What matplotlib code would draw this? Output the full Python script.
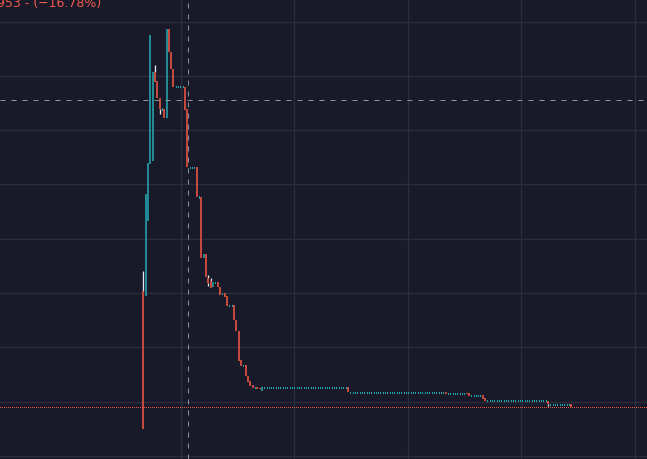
import matplotlib
matplotlib.use("Agg")
import matplotlib.pyplot as plt
import numpy as np
import pandas as pd

# candles that move (index, open, close)
move_idx = [0, 1, 2, 3, 4, 5, 6, 7, 9, 10, 11, 12, 13, 18, 19, 23, 25, 26, 27,
            28, 29, 30, 32, 33, 35, 36, 39, 40, 41, 42, 44, 45, 46, 47, 49, 50,
            51, 88, 130, 139, 140, 146, 147, 174, 184]
move_open = [3.04, 2.95, 4.33, 5.38, 5.43, 7.07, 6.91, 6.59, 6.39, 6.22, 7.86,
             7.44, 7.13, 6.80, 6.39, 5.32, 4.77, 3.65, 3.72, 3.28, 3.22, 3.11,
             3.20, 3.11, 3.00, 2.95, 2.78, 2.50, 2.30, 1.77, 1.68, 1.47, 1.38,
             1.31, 1.27, 1.25, 1.20, 1.27, 1.18, 1.16, 1.16, 1.12, 1.06, 1.02,
             0.96]
move_close = [0.50, 4.83, 5.40, 7.75, 7.07, 6.89, 6.59, 6.39, 6.22, 7.86, 7.44,
              7.13, 6.80, 6.37, 5.32, 4.77, 3.65, 3.72, 3.30, 3.19, 3.09, 3.20,
              3.11, 2.97, 2.93, 2.76, 2.50, 2.30, 1.75, 1.66, 1.47, 1.36, 1.29,
              1.25, 1.23, 1.23, 1.27, 1.17, 1.14, 1.14, 1.10, 1.05, 1.02, 0.96,
              0.91]
# wicks that stick out of the body (index: value)
extra_high = {0: 3.41, 5: 7.20, 28: 3.33, 29: 3.28}
extra_low = {7: 6.30, 28: 3.13, 174: 0.93}

# runs of flat candles: first index, last index, price
flat_start = [8, 14, 20, 24, 31, 34, 37, 43, 48, 52, 89, 131, 141, 148, 175]
flat_end = [8, 17, 22, 24, 31, 34, 38, 43, 48, 87, 129, 138, 145, 173, 183]
flat_price = [6.39, 6.80, 5.32, 4.77, 3.20, 2.99, 2.78, 1.67, 1.27, 1.27, 1.17,
              1.15, 1.12, 1.03, 0.95]

cross_x = 19.35
cross_y = 6.56
header = "953 - (\u221216.78%)"

# build table
rows = []
for i, o, c in zip(move_idx, move_open, move_close):
    rows.append((i, o, max(o, c, extra_high.get(i, 0)),
                 min(o, c, extra_low.get(i, 99)), c))
for s, e, p in zip(flat_start, flat_end, flat_price):
    for i in range(s, e + 1):
        rows.append((i, p, p, p, p))
df = pd.DataFrame(rows, columns=["i", "open", "high", "low", "close"]).sort_values("i")

bg = "#181a29"
grid = "#2a2d3c"
up = "#22a5ab"
down = "#f25544"
wick = "#e4e4ea"
px = 0.72  # one pixel in points

fig = plt.figure(figsize=(6.47, 4.60), dpi=100, facecolor=bg)
ax = fig.add_axes([0, 0, 1, 1])
ax.set_facecolor(bg)

ax.set_xlim(-61.6, 216.6)
ax.set_ylim(-0.055, 8.416)

# grid
ax.set_xticks([16.2, 65.0, 113.8, 162.6, 211.4])
ax.set_yticks(np.arange(0, 9))
ax.grid(True, color=grid, linewidth=1.0)
ax.tick_params(length=0, labelbottom=False, labelleft=False)
for sp in ax.spines.values():
    sp.set_visible(False)
ax.set_axisbelow(True)

# last price line
last = df["close"].iloc[-1]
ax.axhline(last, color=down, linewidth=px, linestyle=(0, (1.0, 2.0)),
           antialiased=False, zorder=2)

# candles
top = np.maximum(df["open"], df["close"])
bot = np.minimum(df["open"], df["close"])
flat = ((top - bot) < 0.02).to_numpy()
mid = (top + bot) / 2
top = np.where(flat, mid + 0.01, top)
bot = np.where(flat, mid - 0.01, bot)
colors = np.where(df["close"] >= df["open"], up, down)
idx = df["i"].to_numpy()
low = df["low"].to_numpy()
high = df["high"].to_numpy()

lo_w = low < bot
hi_w = high > top
ax.vlines(idx[lo_w], low[lo_w], bot[lo_w], color=wick, linewidth=1.3 * px, zorder=3)
ax.vlines(idx[hi_w], top[hi_w], high[hi_w], color=wick, linewidth=1.3 * px, zorder=3)
body = ~flat
ax.vlines(idx[body], bot[body], top[body], color=colors[body],
          linewidth=1.6 * px, zorder=4)
ax.vlines(idx[flat], bot[flat], top[flat], color=colors[flat],
          linewidth=px, antialiased=False, zorder=4)

# crosshair
ax.axhline(cross_y, color="#8a919c", linewidth=px, linestyle=(0, (5.0, 6.0)), zorder=5)
ax.axvline(cross_x, color="#8a919c", linewidth=px, linestyle=(0, (5.0, 6.0)), zorder=5)

fig.text(-3 / 647, 1 - 7 / 460, header, color="#ef5a4a", fontsize=9,
         ha="left", va="baseline")

fig.savefig("out.png", dpi=100, facecolor=bg)
